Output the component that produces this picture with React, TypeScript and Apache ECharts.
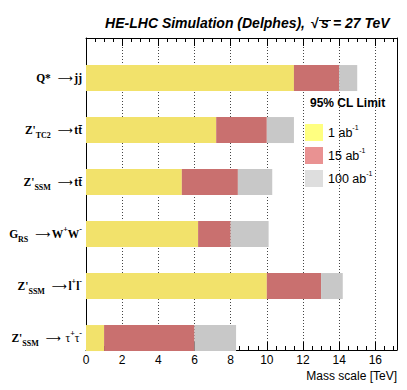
import React, { useEffect, useRef } from 'react';
import * as echarts from 'echarts';

// Process labels (rich text), top to bottom
const categories = [
  '{b|Q*}{a|  ⟶}{g| }{b|jj}',
  "{b|Z'}{sub|TC2}{a|  ⟶}{g| }{b|tt\u0304}",
  "{b|Z'}{sub|SSM}{a|  ⟶}{g| }{b|tt\u0304}",
  '{b|G}{sub|RS}{a|  ⟶}{g| }{b|W}{sup|+}{b|W}{sup|-}',
  "{b|Z'}{sub|SSM}{a|  ⟶}{g| }{b|l}{sup|+}{b|l}{sup|-}",
  "{b|Z'}{sub|SSM}{a|  ⟶ }{g| }{t|τ}{sup|+}{t|τ}{sup|-}",
];
// 95% CL mass limits [TeV]
const limit1ab = [11.5, 7.2, 5.3, 6.2, 10.0, 1.0];
const limit15ab = [14.0, 10.0, 8.4, 8.0, 13.0, 6.0];
const limit100ab = [15.0, 11.5, 10.3, 10.1, 14.2, 8.3];
const seriesNames = ['1 ab-1', '15 ab-1', '100 ab-1'];

const barColors = ['#f2e26b', '#c9706f', '#c8c8c8'];
const legendColors = ['#ffff80', '#e99292', '#dedede'];

const renderBar = (params: any, api: any) => {
  const y = api.value(0);
  const s = api.coord([api.value(1), y]);
  const e = api.coord([api.value(2), y]);
  const h = api.size([0, 0.5])[1];
  return {
    type: 'rect',
    shape: { x: s[0], y: s[1] - h / 2, width: e[0] - s[0], height: h },
    style: { fill: api.visual('color') },
  };
};

export default function App() {
  const ref = useRef<HTMLDivElement>(null);
  useEffect(() => {
    document.body.style.margin = '0';
    const chart = echarts.init(ref.current!, null, { renderer: 'svg' });
    const idx = categories.map((_, i) => i);
    const lo = [idx.map(() => 0), limit1ab, limit15ab];
    const hi = [limit1ab, limit15ab, limit100ab];
    const sans = 'Liberation Sans';
    const serif = 'Liberation Serif';
    const xCommon: any = {
      type: 'value',
      min: 0,
      max: 17.2,
      interval: 2,
      axisLine: { show: true, onZero: false, lineStyle: { color: '#000', width: 1 } },
      axisTick: { show: true, inside: true, length: 8, lineStyle: { color: '#000' } },
      minorTick: { show: true, splitNumber: 4, length: 4, lineStyle: { color: '#000' } },
    };
    chart.setOption({
      animation: false,
      grid: { left: 86, right: 10, top: 38, bottom: 40 },
      xAxis: [
        {
          ...xCommon,
          position: 'bottom',
          axisLabel: { show: true, fontSize: 12, color: '#000', fontFamily: sans, margin: 4, showMaxLabel: false },
          splitLine: { show: true, lineStyle: { color: '#444', type: [1, 2], width: 1 } },
        },
        {
          ...xCommon,
          position: 'top',
          axisLabel: { show: false },
          splitLine: { show: false },
        },
      ],
      yAxis: [
        {
          type: 'value',
          inverse: true,
          min: -0.77,
          max: 5.23,
          position: 'left',
          axisLine: { show: true, onZero: false, lineStyle: { color: '#000', width: 1 } },
          axisTick: { show: false },
          splitLine: { show: false },
          axisLabel: {
            show: true,
            customValues: idx,
            margin: 4,
            formatter: (v: number) => categories[Math.round(v)] || '',
            rich: {
              b: { fontFamily: serif, fontWeight: 'bold', fontSize: 11.5, color: '#000', lineHeight: 18, verticalAlign: 'middle' },
              t: { fontFamily: serif, fontSize: 11.5, color: '#000', lineHeight: 18, verticalAlign: 'middle' },
              a: { fontFamily: 'DejaVu Sans', fontSize: 10.5, color: '#000', lineHeight: 18, verticalAlign: 'middle' },
              g: { fontFamily: serif, fontSize: 7, color: '#000', lineHeight: 18, verticalAlign: 'middle' },
              sub: { fontFamily: serif, fontWeight: 'bold', fontSize: 8, color: '#000', lineHeight: 7, verticalAlign: 'bottom' },
              sup: { fontFamily: serif, fontWeight: 'bold', fontSize: 8, color: '#000', lineHeight: 9, verticalAlign: 'top' },
            },
          },
        },
        {
          type: 'value',
          inverse: true,
          min: -0.77,
          max: 5.23,
          position: 'right',
          axisLine: { show: true, onZero: false, lineStyle: { color: '#000', width: 1 } },
          axisTick: { show: false },
          axisLabel: { show: false },
          splitLine: { show: false },
        },
      ],
      legend: {
        orient: 'vertical',
        left: 300,
        top: 119,
        itemWidth: 18,
        itemHeight: 17,
        itemGap: 6,
        icon: 'rect',
        selectedMode: false,
        data: seriesNames.map((n, i) => ({ name: n, itemStyle: { color: legendColors[i] } })),
        formatter: (n: string) => '{n|' + n.replace(' ab-1', ' ab') + '}{s|-1}',
        textStyle: {
          rich: {
            n: { fontFamily: sans, fontSize: 12.5, color: '#000', lineHeight: 17, verticalAlign: 'middle' },
            s: { fontFamily: sans, fontSize: 7, color: '#000', lineHeight: 8, verticalAlign: 'top' },
          },
        },
      },
      graphic: [
        { type: 'text', right: 102, top: 16, style: { text: 'HE-LHC Simulation (Delphes),', font: 'italic bold 14px "Liberation Sans"', fill: '#000' } },
        { type: 'text', left: 311, top: 16, style: { text: '√', font: 'bold 14px "Liberation Sans"', fill: '#000' } },
        { type: 'text', left: 321, top: 16, style: { text: 's', font: 'italic bold 14px "Liberation Sans"', fill: '#000' } },
        { type: 'line', shape: { x1: 319, y1: 20.5, x2: 331, y2: 20.5 }, style: { stroke: '#000', lineWidth: 1 } },
        { type: 'text', left: 333, top: 16, style: { text: '= 27 TeV', font: 'italic bold 14px "Liberation Sans"', fill: '#000' } },
        { type: 'text', left: 310, top: 97, style: { text: '95% CL Limit', font: 'bold 12px "Liberation Sans"', fill: '#000' } },
        { type: 'text', right: 10, top: 370, style: { text: 'Mass scale [TeV]', font: '12px "Liberation Sans"', fill: '#000' } },
      ],
      series: seriesNames.map((name, k) => ({
        type: 'custom',
        name,
        renderItem: renderBar,
        itemStyle: { color: barColors[k] },
        encode: { x: [1, 2], y: 0 },
        data: idx.map((i) => [i, lo[k][i], hi[k][i]]),
        z: 2 + k,
      })),
    });
    return () => chart.dispose();
  }, []);
  return <div ref={ref} style={{ width: 407, height: 390 }} />;
}
